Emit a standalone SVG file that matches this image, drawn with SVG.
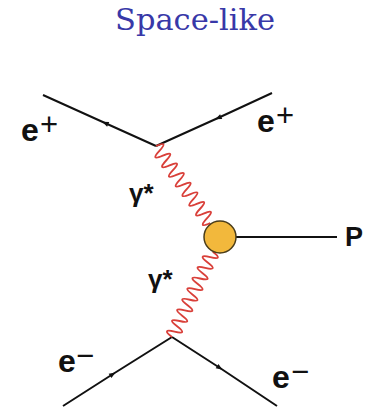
<svg xmlns="http://www.w3.org/2000/svg" width="365" height="407" viewBox="0 0 365 407">
<style>
.fermion{fill:none;stroke:#111;stroke-width:2;marker-mid:url(#arr)}
.photon{fill:none;stroke:#d9403a;stroke-width:1.9}
.lbl{font-family:"Liberation Sans",Arial,sans-serif;font-weight:bold;font-size:32px;fill:#111}
.plbl{font-family:"Liberation Sans",Arial,sans-serif;font-weight:bold;font-size:27px;fill:#111}
.sup{font-family:"Liberation Sans",Arial,sans-serif;font-weight:normal;font-size:31px;fill:#111}
.gam{font-family:"Liberation Sans",Arial,sans-serif;font-weight:bold;font-size:26px;fill:#111}
.title{font-family:"DejaVu Serif","Liberation Serif",serif;font-size:30px;fill:#3838a8}
</style>
<defs>
<marker id="arr" markerUnits="userSpaceOnUse" markerWidth="10" markerHeight="10" viewBox="-5 -5 10 10" refX="0" refY="0" orient="auto">
<path d="M-3.5,-2.6 L3,0 L-3.5,2.6 z" fill="#111"/>
</marker>
<path id="wave" d="M0,0 Q2.95,-14 5.9,0 T11.8,0 T17.7,0 T23.6,0 T29.5,0 T35.4,0 T41.3,0 T47.2,0 T53.1,0 T59,0 T64.9,0 T70.8,0 T76.7,0 T82.6,0 T88.5,0 T94.4,0"/>
</defs>
<g id="title"><text class="title" x="115" y="30" textLength="160" lengthAdjust="spacingAndGlyphs">Space-like</text></g>
<g id="connectors">
<path class="fermion" d="M156,146 L105,123 L43,95"/>
<path class="fermion" d="M272,93 L218,118 L156,146"/>
<path class="fermion" d="M63,406 L113,374 L172,337"/>
<path class="fermion" d="M172,337 L220,368 L277,406"/>
<use href="#wave" class="photon" transform="translate(156,146) rotate(54.9)"/>
<use href="#wave" class="photon" transform="translate(172,337) rotate(-64.4)"/>
<line x1="236" y1="237" x2="337" y2="237" stroke="#111" stroke-width="2"/>
</g>
<g id="blob"><circle cx="220" cy="237" r="16" fill="#f2b83c" stroke="#4a3d1a" stroke-width="1.5"/></g>
<g id="P"><text class="plbl" x="345" y="246">P</text></g>
<g id="e-plus-in"><text class="lbl" x="21" y="141">e</text><text class="sup" x="40" y="135">+</text></g>
<g id="e-plus-out"><text class="lbl" x="257" y="132">e</text><text class="sup" x="276" y="126">+</text></g>
<g id="e-minus-in"><text class="lbl" x="58" y="372">e</text><text class="sup" x="76" y="366">−</text></g>
<g id="e-minus-out"><text class="lbl" x="272" y="388">e</text><text class="sup" x="291" y="382">−</text></g>
<g id="gamma-top"><text class="gam" x="129" y="202">γ*</text></g>
<g id="gamma-bottom"><text class="gam" x="148" y="288">γ*</text></g>
</svg>
